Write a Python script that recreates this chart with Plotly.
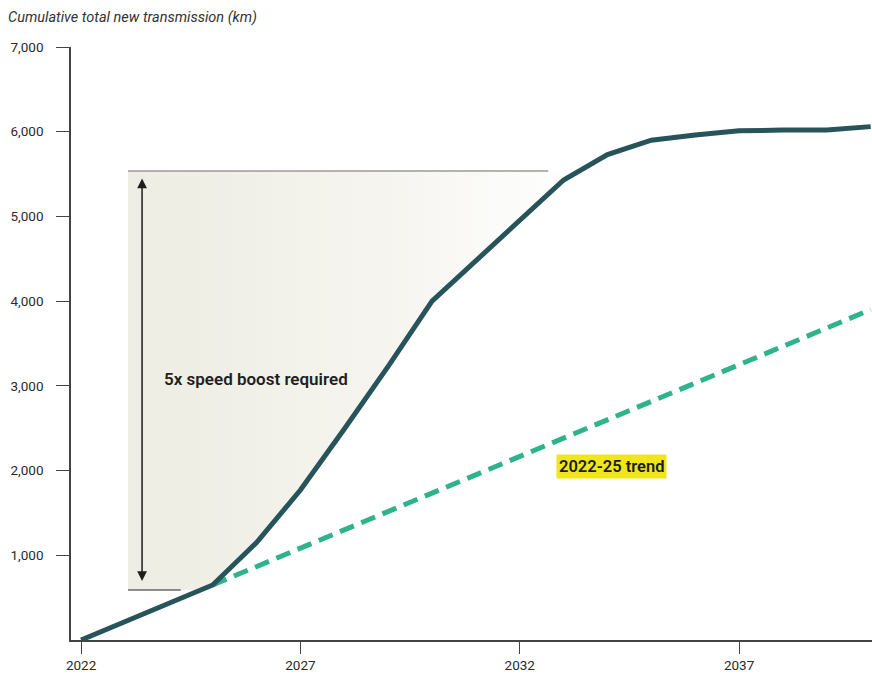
import numpy as np
import plotly.graph_objects as go

# Cumulative new transmission required (km)
years = [2022, 2023, 2024, 2025, 2026, 2027, 2028, 2029, 2030, 2031,
         2032, 2033, 2034, 2035, 2036, 2037, 2038, 2039, 2040]
required_km = [0, 215, 430, 650, 1150, 1770, 2490, 3230, 4000, 4480,
               4960, 5430, 5730, 5900, 5960, 6010, 6020, 6020, 6060]

# Linear extension of the 2022-25 build rate
trend_years = [2025, 2040]
trend_km = [650, 3900]

# Gap bracket for the "5x" callout
gap_low_km = 590
gap_high_km = 5537
gap_left_year = 2023.07
gap_top_line_end_year = 2032.65

x_ticks = [2022, 2027, 2032, 2037]
y_ticks = [1000, 2000, 3000, 4000, 5000, 6000, 7000]

SOLID = "#27535a"
DASH = "#2eb38d"
TICK_FONT = dict(family="Liberation Sans Narrow, Roboto, Arial", size=13.5, color="#2b2b2b")

fig = go.Figure()

# Shaded region between the low and high bracket, bounded on the right by the curve
yr = np.array(years, float)
km = np.array(required_km, float)
x_at_low = float(np.interp(gap_low_km, km, yr))
x_at_high = float(np.interp(gap_high_km, km, yr))
inside = (km > gap_low_km) & (km < gap_high_km)
poly_x = [gap_left_year, gap_left_year, x_at_high] + list(yr[inside][::-1]) + [x_at_low]
poly_y = [gap_low_km, gap_high_km, gap_high_km] + list(km[inside][::-1]) + [gap_low_km]
fig.add_trace(go.Scatter(
    x=poly_x, y=poly_y, mode="lines", line=dict(width=0),
    fill="toself",
    fillgradient=dict(type="horizontal",
                      colorscale=[[0, "#eeede3"], [0.5, "#f4f3ed"], [1, "#ffffff"]]),
    hoverinfo="skip", showlegend=False,
))

# Bracket lines
fig.add_trace(go.Scatter(
    x=[gap_left_year, gap_top_line_end_year], y=[gap_high_km, gap_high_km],
    mode="lines", line=dict(color="#9a9a96", width=1.5),
    hoverinfo="skip", showlegend=False,
))
fig.add_trace(go.Scatter(
    x=[gap_left_year, gap_left_year + 1.2], y=[gap_low_km, gap_low_km],
    mode="lines", line=dict(color="#222222", width=1.2),
    hoverinfo="skip", showlegend=False,
))

# Trend line
fig.add_trace(go.Scatter(
    x=trend_years, y=trend_km, mode="lines",
    line=dict(color=DASH, width=5, dash="15px,8px"),
    showlegend=False,
))

# Required build-out
fig.add_trace(go.Scatter(
    x=years, y=required_km, mode="lines",
    line=dict(color=SOLID, width=5),
    showlegend=False,
))

# Double-headed arrow spanning the gap
arrow_x = gap_left_year + 0.32
fig.add_annotation(
    x=arrow_x, y=gap_high_km - 90, ax=arrow_x, ay=gap_low_km + 90,
    xref="x", yref="y", axref="x", ayref="y",
    showarrow=True, arrowhead=2, startarrowhead=2, arrowside="end+start",
    arrowsize=1.3, startarrowsize=1.3, arrowwidth=1.5,
    arrowcolor="#1e1e1e", text="",
)

fig.add_annotation(
    x=2023.84, y=3080, xref="x", yref="y", xanchor="left", yanchor="middle",
    text="5x speed boost required", showarrow=False,
    font=dict(family="Roboto", size=17, color="#1f1f1f", weight=600),
)

fig.add_annotation(
    x=2034.08, y=2054, xref="x", yref="y", xanchor="center", yanchor="middle",
    text="2022-25 trend", showarrow=False, bgcolor="#f0e61b", borderpad=2,
    font=dict(family="Roboto", size=16.5, color="#1a1a1a", weight=600),
)

fig.update_layout(
    width=872, height=677,
    margin=dict(l=71, r=0, t=47, b=37),
    paper_bgcolor="white", plot_bgcolor="white",
    title=dict(
        text="<i>Cumulative total new transmission (km)</i>",
        x=8 / 872, xanchor="left", xref="container",
        y=1 - 17 / 677, yanchor="middle", yref="container",
        font=dict(family="Roboto", size=14.5, color="#333333"),
    ),
    xaxis=dict(
        range=[2021.77, 2040.03], tickvals=x_ticks, ticktext=[str(t) for t in x_ticks],
        showgrid=False, zeroline=False, showline=True, linecolor="#444444", linewidth=1.5,
        ticks="outside", ticklen=12, tickwidth=1.2, tickcolor="#444444",
        tickfont=TICK_FONT, fixedrange=True,
    ),
    yaxis=dict(
        range=[0, 7000], tickvals=y_ticks, tickformat=",",
        showgrid=False, zeroline=False, showline=True, linecolor="#444444", linewidth=1.5,
        ticks="outside", ticklen=13, tickwidth=1.2, tickcolor="#444444",
        tickfont=TICK_FONT, ticklabelstandoff=10, fixedrange=True,
    ),
)

fig.write_html("out.html")
